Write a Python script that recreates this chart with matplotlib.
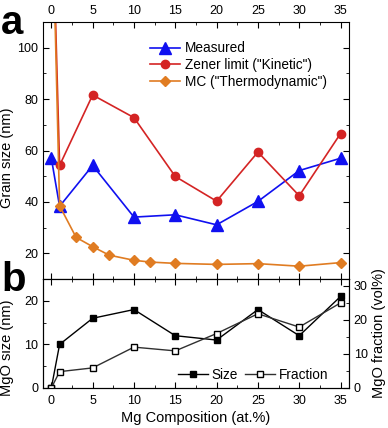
import matplotlib
matplotlib.use('Agg')
from matplotlib import pyplot as plt
from matplotlib.ticker import MultipleLocator

plt.rcParams['font.family'] = ['Liberation Sans', 'DejaVu Sans']

# grain size data (top panel)
x_meas = [0, 1, 5, 10, 15, 20, 25, 30, 35]
measured = [57, 38.3, 54.2, 34.1, 35.0, 31.1, 40.2, 52.2, 57.0]

x_zener = [0, 1, 5, 10, 15, 20, 25, 30, 35]
zener = [170, 54.2, 81.6, 72.8, 49.9, 40.3, 59.4, 42.4, 66.6]

x_mc = [0, 1, 3, 5, 7, 10, 12, 15, 20, 25, 30, 35]
mc = [170, 38.5, 26.2, 22.6, 19.3, 17.3, 16.6, 16.1, 15.7, 16.0, 15.0, 16.4]

# MgO data (bottom panel)
x_mgo = [0, 1, 5, 10, 15, 20, 25, 30, 35]
mgo_size = [0, 10, 16, 18, 12, 11, 18, 12, 21]
mgo_frac = [0, 4.8, 5.9, 12.0, 10.9, 16.0, 21.8, 17.9, 25.0]

xticks = [0, 5, 10, 15, 20, 25, 30, 35]

fig = plt.figure(figsize=(3.88, 4.28), dpi=100)
ax1 = fig.add_axes([0.111, 0.348, 0.788, 0.6006])
ax2 = fig.add_axes([0.111, 0.0935, 0.788, 0.2545])

blue = '#1010f0'
red = '#d42424'
orange = '#e07c22'

ax1.plot(x_meas, measured, '-^', color=blue, ms=8.5, lw=1.2, label='Measured')
ax1.plot(x_zener, zener, '-o', color=red, ms=6, lw=1.2, label='Zener limit ("Kinetic")')
ax1.plot(x_mc, mc, '-D', color=orange, ms=5.5, lw=1.2, label='MC ("Thermodynamic")')

ax1.set_xlim(-1, 36)
ax1.set_ylim(10, 110)
ax1.set_yticks([20, 40, 60, 80, 100])
ax1.yaxis.set_minor_locator(MultipleLocator(10))
ax1.set_xticks(xticks)
ax1.xaxis.set_minor_locator(MultipleLocator(2.5))
ax1.tick_params(which='both', direction='in', top=True, right=True,
                labeltop=True, labelbottom=False, labelsize=9)
ax1.tick_params(which='major', length=4)
ax1.tick_params(which='minor', length=2.5)
ax1.set_ylabel('Grain size (nm)', fontsize=10.5)
ax1.yaxis.set_label_coords(-0.095, 0.47)
ax1.legend(loc='upper right', bbox_to_anchor=(0.96, 0.962), frameon=False,
           fontsize=9.8, handlelength=2.2, handletextpad=0.4, labelspacing=0.2,
           borderpad=0.2)

ax2.plot(x_mgo, mgo_size, '-s', color='black', ms=5, lw=1, label='Size')
ax3 = ax2.twinx()
ax3.plot(x_mgo, mgo_frac, '-s', color='#303030', ms=5, lw=1,
         mfc='white', mec='black', label='Fraction')

ax2.set_xlim(-1, 36)
ax2.set_ylim(0, 25)
ax3.set_ylim(0, 32)
ax2.set_yticks([0, 10, 20])
ax2.yaxis.set_minor_locator(MultipleLocator(5))
ax3.set_yticks([0, 10, 20, 30])
ax3.yaxis.set_minor_locator(MultipleLocator(5))
ax2.set_xticks(xticks)
ax2.xaxis.set_minor_locator(MultipleLocator(2.5))
ax2.tick_params(which='both', direction='in', top=True, labelsize=9)
ax2.tick_params(which='major', length=4)
ax2.tick_params(which='minor', length=2.5)
ax2.tick_params(axis='x', pad=5)
ax3.tick_params(which='both', direction='in', labelsize=9)
ax3.tick_params(which='major', length=4)
ax3.tick_params(which='minor', length=2.5)
ax2.set_xlabel('Mg Composition (at.%)', fontsize=10.5, labelpad=3)
ax2.set_ylabel('MgO size (nm)', fontsize=10.5)
ax2.yaxis.set_label_coords(-0.095, 0.37)
ax3.set_ylabel('MgO fraction (vol%)', fontsize=10.5, labelpad=3)

h2, l2 = ax2.get_legend_handles_labels()
h3, l3 = ax3.get_legend_handles_labels()
ax3.legend(h2 + h3, l2 + l3, loc='lower right', ncol=2, frameon=False,
           fontsize=9.8, handlelength=2.2, handletextpad=0.3, columnspacing=0.5,
           bbox_to_anchor=(0.965, -0.03), borderpad=0.2)

fig.text(0.003, 0.99, 'a', fontsize=29, fontweight='bold', va='top', ha='left')
fig.text(0.003, 0.39, 'b', fontsize=29, fontweight='bold', va='top', ha='left')

plt.savefig('out.png', dpi=100)
